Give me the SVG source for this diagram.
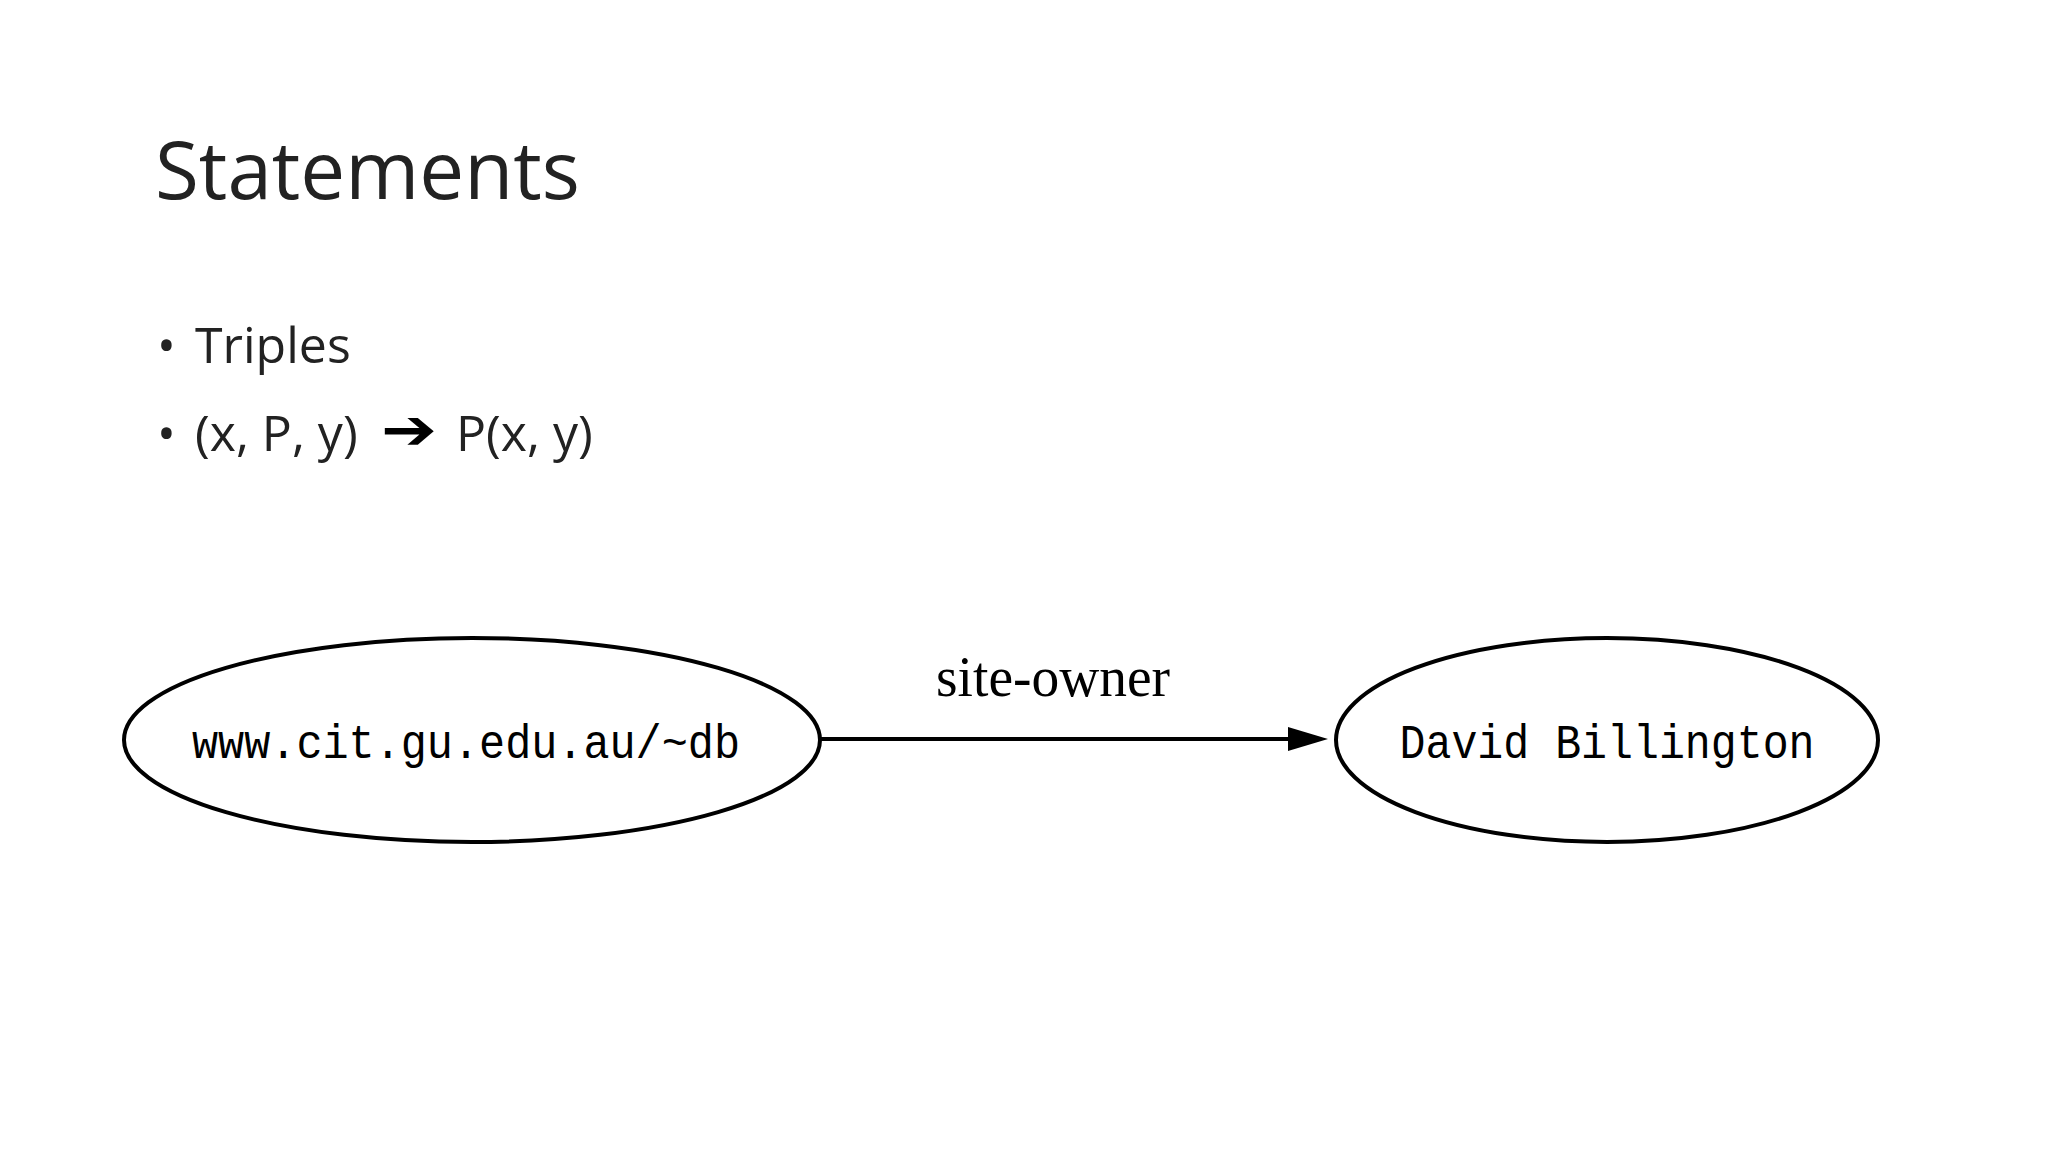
<svg xmlns="http://www.w3.org/2000/svg" width="2048" height="1152" viewBox="0 0 2048 1152">
<style>
.sl{font-family:"Open Sans","Noto Sans",sans-serif;fill:#222}
.nd{fill:none;stroke:#000;stroke-width:4}
.nt{font-family:"Liberation Mono",monospace;font-size:48px;fill:#000;text-anchor:middle}
</style>
<rect width="2048" height="1152" fill="#fff"/>
<text class="sl" x="155" y="199" font-size="80">Statements</text>
<text class="sl" x="157" y="363" font-size="50">•</text>
<text class="sl" x="195" y="363" font-size="50">Triples</text>
<text class="sl" x="157" y="451" font-size="50">•</text>
<text class="sl" x="195" y="451" font-size="50">(x, P, y)</text>
<text x="381" y="449" font-family="DejaVu Sans,sans-serif" font-weight="bold" font-size="56" fill="#000" textLength="56" lengthAdjust="spacingAndGlyphs">➔</text>
<text class="sl" x="456" y="451" font-size="50">P(x, y)</text>
<g id="connectors">
<line x1="820" y1="739" x2="1300" y2="739" stroke="#000" stroke-width="4"/>
<path d="M1288,727 L1328,739 L1288,751 Z" fill="#000"/>
<text x="1053" y="696" font-family="Liberation Serif,serif" font-size="58" text-anchor="middle" textLength="234" lengthAdjust="spacingAndGlyphs">site-owner</text>
</g>
<g id="n1"><ellipse class="nd" cx="472" cy="740" rx="348" ry="102"/><text class="nt" x="466" y="758" textLength="548" lengthAdjust="spacingAndGlyphs">www.cit.gu.edu.au/~db</text></g>
<g id="n2"><ellipse class="nd" cx="1607" cy="740" rx="271" ry="102"/><text class="nt" x="1607" y="758" textLength="415" lengthAdjust="spacingAndGlyphs">David Billington</text></g>
</svg>
